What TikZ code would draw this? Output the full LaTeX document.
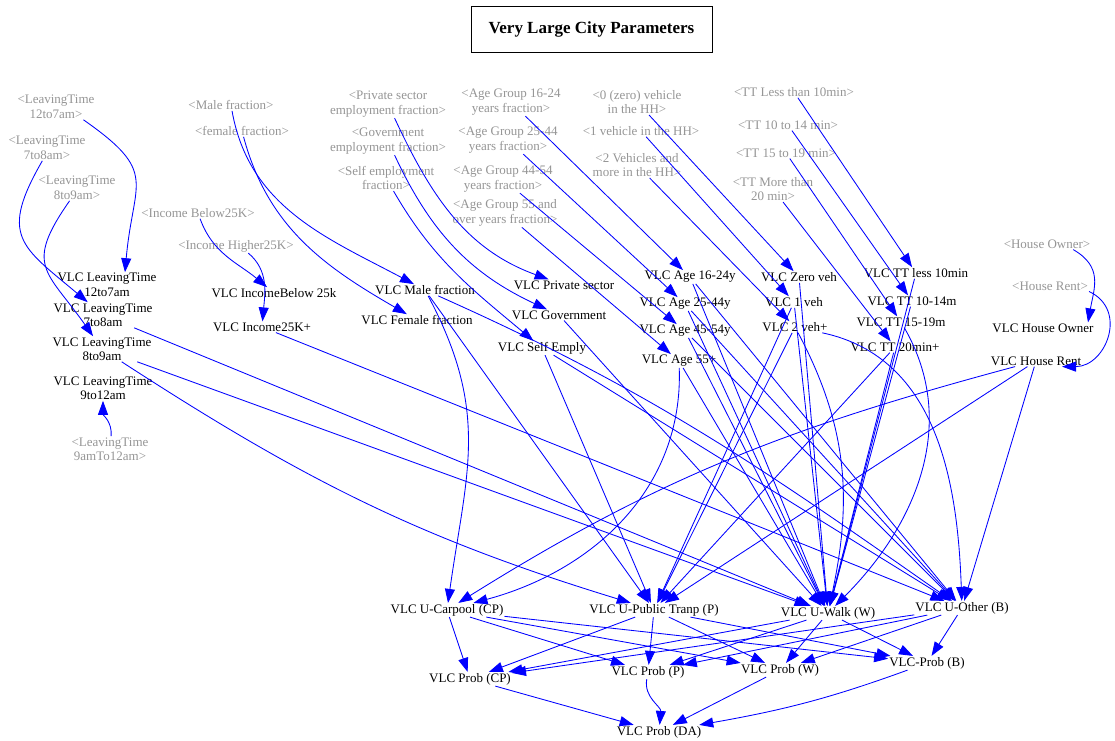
\documentclass[tikz,border=0pt]{standalone}
\usepackage{fontspec}
\setmainfont{Liberation Serif}
\usetikzlibrary{arrows.meta}
\definecolor{shadowgray}{RGB}{150,150,150}
\definecolor{edgeblue}{RGB}{0,0,255}
\begin{document}
\begin{tikzpicture}[x=1pt,y=-1pt,
  txt/.style={font=\fontsize{13}{14.5}\selectfont, align=center, inner sep=1pt},
  bk/.style={txt, text=black},
  sh/.style={txt, text=shadowgray},
  e/.style={draw=edgeblue, line width=0.85pt, -{Triangle[length=14pt,width=10pt]}},
  titlebox/.style={draw, line width=1pt, minimum width=241pt, minimum height=46pt, inner sep=0pt,
    font=\bfseries\fontsize{17}{20}\selectfont}
]
\useasboundingbox (0,0) rectangle (1115,740);
\fill[white] (0,0) rectangle (1115,740);

% title
\node[titlebox] (title) at (591.5,29) {Very Large City Parameters};

% shadow (gray) nodes
\node[sh] (gLT12) at (56,107) {<LeavingTime\\12to7am>};
\node[sh] (gLT7) at (47,148) {<LeavingTime\\7to8am>};
\node[sh] (gLT8) at (77,188) {<LeavingTime\\8to9am>};
\node[sh] (gLT9) at (110,449) {<LeavingTime\\9amTo12am>};
\node[sh] (gMale) at (231,105) {<Male fraction>};
\node[sh] (gFem) at (242,131) {<female fraction>};
\node[sh] (gIB) at (198,213) {<Income Below25K>};
\node[sh] (gIH) at (236,246) {<Income Higher25K>};
\node[sh] (gPriv) at (388,104) {<Private sector\\employment fraction>};
\node[sh] (gGov) at (388,141) {<Government\\employment fraction>};
\node[sh] (gSelf) at (386,178) {<Self employment\\fraction>};
\node[sh] (gA16) at (511,102) {<Age Group 16-24\\years fraction>};
\node[sh] (gA25) at (508,140) {<Age Group 25-44\\years fraction>};
\node[sh] (gA44) at (503,179) {<Age Group 44-54\\years fraction>};
\node[sh] (gA55) at (505,213) {<Age Group 55 and\\over years fraction>};
\node[sh] (gV0) at (637,102) {<0 (zero) vehicle\\in the HH>};
\node[sh] (gV1) at (641,131) {<1 vehicle in the HH>};
\node[sh] (gV2) at (637,165) {<2 Vehicles and\\more in the HH>};
\node[sh] (gTT10) at (794,92) {<TT Less than 10min>};
\node[sh] (gTT1014) at (788,125) {<TT 10 to 14 min>};
\node[sh] (gTT1519) at (786,153) {<TT 15 to 19 min>};
\node[sh] (gTT20) at (773,189) {<TT More than\\20 min>};
\node[sh] (gHO) at (1047,244) {<House Owner>};
\node[sh] (gHR) at (1050,286) {<House Rent>};

% black nodes
\node[bk] (VLT12) at (107,285) {VLC LeavingTime\\12to7am};
\node[bk] (VLT7) at (103,315) {VLC LeavingTime\\7to8am};
\node[bk] (VLT8) at (102,349) {VLC LeavingTime\\8to9am};
\node[bk] (VLT9) at (103,388) {VLC LeavingTime\\9to12am};
\node[bk] (VIB) at (274,293) {VLC IncomeBelow 25k};
\node[bk] (VIH) at (262,327) {VLC Income25K+};
\node[bk] (VMale) at (425,290) {VLC Male fraction};
\node[bk] (VFem) at (417,320) {VLC Female fraction};
\node[bk] (VPriv) at (564,285) {VLC Private sector};
\node[bk] (VGov) at (559,315) {VLC Government};
\node[bk] (VSelf) at (542,348) {VLC Self Emply};
\node[bk] (VA16) at (690,277) {VLC Age 16-24y};
\node[bk] (VA25) at (685,304) {VLC Age 25-44y};
\node[bk] (VA45) at (685,331) {VLC Age 45-54y};
\node[bk] (VA55) at (679,361) {VLC Age 55+};
\node[bk] (VZ) at (799,277) {VLC Zero veh};
\node[bk] (V1v) at (794,302) {VLC 1 veh};
\node[bk] (V2v) at (795,327) {VLC 2 veh+};
\node[bk] (VTT10) at (916,273) {VLC TT less 10min};
\node[bk] (VTT1014) at (912,301) {VLC TT 10-14m};
\node[bk] (VTT1519) at (901,322) {VLC TT 15-19m};
\node[bk] (VTT20) at (895,347) {VLC TT 20min+};
\node[bk] (VHO) at (1043,328) {VLC House Owner};
\node[bk] (VHR) at (1036,361) {VLC House Rent};

\node[bk] (UCP) at (447,610) {VLC U-Carpool (CP)};
\node[bk] (UP) at (654,610) {VLC U-Public Tranp (P)};
\node[bk] (UW) at (828,613) {VLC U-Walk (W)};
\node[bk] (UB) at (962,608) {VLC U-Other (B)};
\node[bk] (PCP) at (470,679) {VLC Prob (CP)};
\node[bk] (PP) at (648,672) {VLC Prob (P)};
\node[bk] (PW) at (780,670) {VLC Prob (W)};
\node[bk] (PB) at (927,663) {VLC-Prob (B)};
\node[bk] (PDA) at (659,732) {VLC Prob (DA)};

% shadow -> black
\draw[e] (gLT12.-25) to[out=-35,in=85,looseness=1.5] ([xshift=18pt]VLT12.north);
\draw[e] (gLT7.-110) to[out=-120,in=140,looseness=1.5] (VLT7);
\draw[e] (gLT8.-120) to[out=-125,in=125,looseness=1.5] (VLT8);
\draw[e] (gLT9) to[out=85,in=-90] (VLT9);
\draw[e] (gMale) to[out=-80,in=152] (VMale);
\draw[e] (gFem) to[out=-75,in=150] (VFem);
\draw[e] (gIB) to[out=-70,in=140] (VIB);
\draw[e] (gIH.-30) to[out=-40,in=85] (VIH);
\draw[e] (gPriv) to[out=-65,in=160] (VPriv);
\draw[e] (gGov) to[out=-65,in=155] (VGov);
\draw[e] (gSelf) to[out=-60,in=140] (VSelf);
\draw[e] (gA16) -- (VA16);
\draw[e] (gA25) -- (VA25);
\draw[e] (gA44) -- (VA45);
\draw[e] (gA55) -- (VA55);
\draw[e] (gV0) -- (VZ);
\draw[e] (gV1) -- (V1v);
\draw[e] (gV2) -- (V2v);
\draw[e] (gTT10) -- (VTT10);
\draw[e] (gTT1014) -- (VTT1014);
\draw[e] (gTT1519) -- (VTT1519);
\draw[e] (gTT20) -- (VTT20);
\draw[e] (gHO.-12) to[out=-30,in=80,looseness=1.2] ([xshift=45pt]VHO.north);
\draw[e] (gHR.-8) to[out=-25,in=0,looseness=1.4] ([xshift=26pt]VHR.south);

% black -> utilities
\draw[e] (VMale) to[out=-62,in=82,looseness=1.1] (UCP);
\draw[e] (VHR) to[out=195,in=32] (UCP);
\draw[e] (VA55) to[out=-88,in=15] (UCP);

\draw[e] (VLT8) to[out=-33,in=163] (UP);
\draw[e] (VMale) -- (UP);
\draw[e] (VSelf) -- (UP);
\draw[e] (V1v) -- (UP);
\draw[e] (V2v) -- (UP);
\draw[e] (VTT20) -- (UP);
\draw[e] (VHR) -- (UP);

\draw[e] (VLT7) -- (UW);
\draw[e] (VLT8) -- (UW);
\draw[e] (VGov) -- (UW);
\draw[e] (VA16) -- (UW);
\draw[e] (VA25) -- (UW);
\draw[e] (VA45) -- (UW);
\draw[e] (VA55) -- (UW);
\draw[e] (VZ) -- (UW);
\draw[e] (V1v) -- (UW);
\draw[e] (V2v) to[out=-62,in=78] (UW);
\draw[e] (VTT10) -- (UW);
\draw[e] (VTT1014) -- (UW);
\draw[e] (VTT1519) to[out=-60,in=45] (UW);
\draw[e] (VTT20) -- (UW);

\draw[e] (VIH) -- (UB);
\draw[e] (VMale) to[out=-24,in=145] (UB);
\draw[e] (VSelf) -- (UB);
\draw[e] (VA16) -- (UB);
\draw[e] (VA25) -- (UB);
\draw[e] (VA45) -- (UB);
\draw[e] (V2v) to[out=-12,in=92] (UB);
\draw[e] (VHR) -- (UB);

% utilities -> probabilities
\foreach \u in {UCP,UP,UW,UB}{
  \foreach \p in {PCP,PP,PW,PB}{
    \draw[e] (\u) -- (\p);
  }
}
\draw[e] (PCP) -- (PDA);
\draw[e] (PP) to[out=-100,in=85] (PDA);
\draw[e] (PW) -- (PDA);
\draw[e] (PB) to[out=-160,in=10] (PDA);
\end{tikzpicture}
\end{document}
